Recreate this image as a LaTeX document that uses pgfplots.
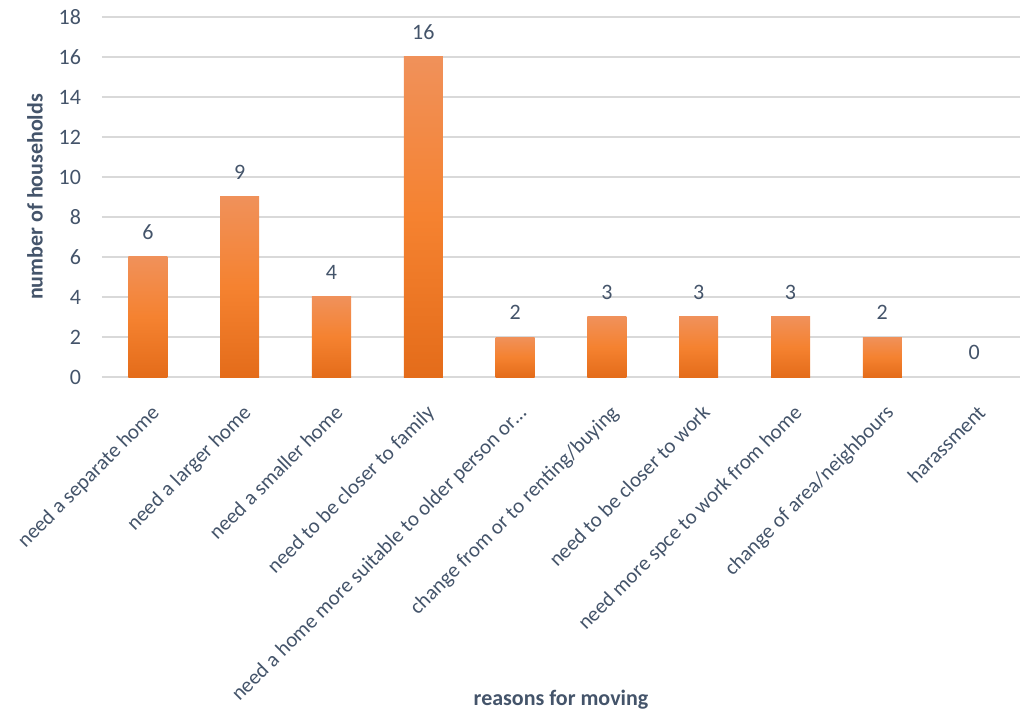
\documentclass[border=0pt]{standalone}
\usepackage{pgfplots}
\pgfplotsset{compat=1.18}
\usepackage{fontspec}
\setmainfont{Carlito}
\definecolor{txt}{HTML}{44546A}
\definecolor{gridc}{HTML}{D9D9D9}
\definecolor{bartop}{HTML}{F0915A}
\definecolor{barmid}{HTML}{F58230}
\definecolor{barbot}{HTML}{E46C1A}
\pgfplotsset{gbar/.style={draw=none, top color=bartop, bottom color=barbot, middle color=barmid}}
\begin{document}
\begin{tikzpicture}
\begin{axis}[
  scale only axis,
  width=459pt, height=180pt,
  xmin=-0.5, xmax=9.5,
  ymin=0, ymax=18,
  ytick={0,2,...,18},
  xtick={0,...,9},
  xticklabels={need a separate home, need a larger home, need a smaller home, need to be closer to family, need a home more suitable to older person or…, change from or to renting/buying, need to be closer to work, need more spce to work from home, change of area/neighbours, harassment},
  axis line style={draw=none},
  tick style={draw=none},
  ymajorgrids,
  grid style={gridc, line width=0.75pt},
  /pgf/number format/assume math mode=true,
  ticklabel style={font=\fontsize{11}{13}\selectfont, text=txt},
  yticklabel style={xshift=-7pt},
  xticklabel style={font=\fontsize{10.5}{12}\selectfont, rotate=45, anchor=north east, inner sep=1pt, yshift=-6pt, xshift=-4.5pt},
  ybar, bar width=19.5pt, bar shift=0pt,
  nodes near coords,
  nodes near coords style={font=\fontsize{11}{13}\selectfont, text=txt, yshift=5pt},
  xlabel={reasons for moving},
  ylabel={number of households},
  label style={font=\fontsize{11}{13}\selectfont\bfseries, text=txt},
  xlabel style={at={(rel axis cs:0.5,0)}, anchor=center, yshift=-161.5pt},
  ylabel style={at={(rel axis cs:0,0.5)}, anchor=center, yshift=33.5pt},
]
\addplot[gbar] coordinates {(0,6)};
\addplot[gbar] coordinates {(1,9)};
\addplot[gbar] coordinates {(2,4)};
\addplot[gbar] coordinates {(3,16)};
\addplot[gbar] coordinates {(4,2)};
\addplot[gbar] coordinates {(5,3)};
\addplot[gbar] coordinates {(6,3)};
\addplot[gbar] coordinates {(7,3)};
\addplot[gbar] coordinates {(8,2)};
\addplot[draw=none, fill=none] coordinates {(9,0)};
\end{axis}
\pgfresetboundingbox
\path (-51pt,-167.5pt) rectangle (461pt,188.5pt);
\end{tikzpicture}
\end{document}
